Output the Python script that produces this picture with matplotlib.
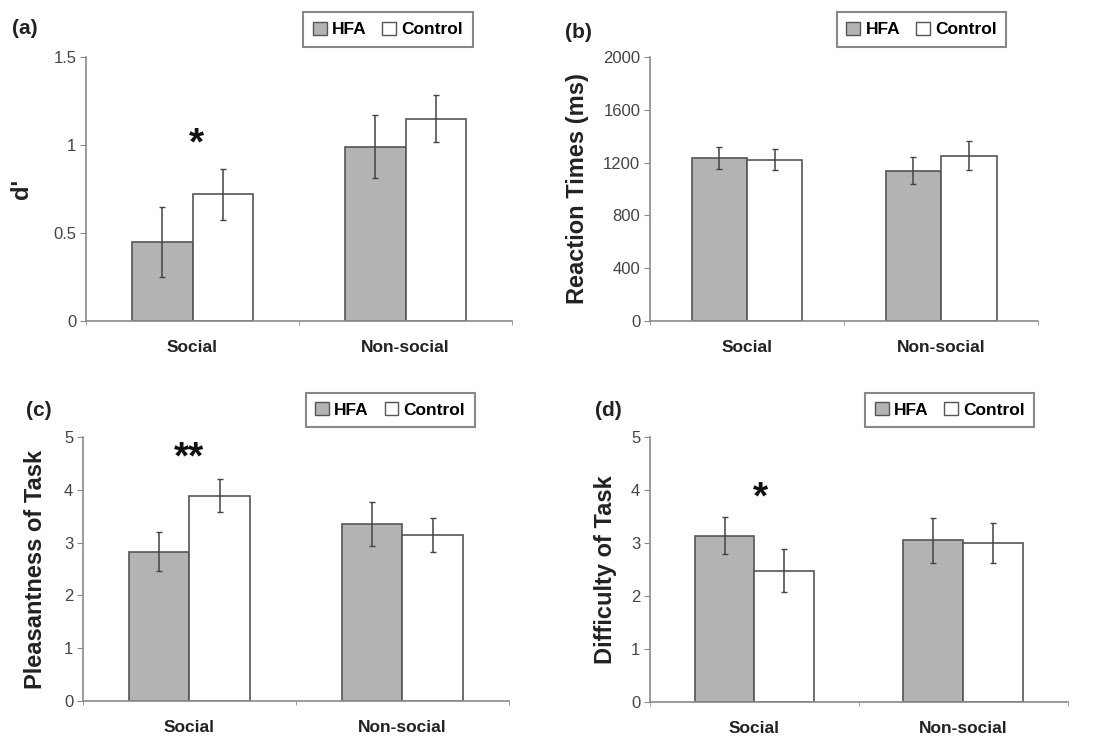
import matplotlib
matplotlib.use("Agg")
import matplotlib.pyplot as plt
from matplotlib.patches import Patch

plt.rcParams['font.family'] = ['Liberation Sans', 'DejaVu Sans']

categories = ['Social', 'Non-social']
groups = ['HFA', 'Control']

# (a) d'
dprime_hfa = [0.45, 0.99]
dprime_hfa_err = [0.20, 0.18]
dprime_ctl = [0.72, 1.15]
dprime_ctl_err = [0.145, 0.135]

# (b) reaction times
rt_hfa = [1236, 1140]
rt_hfa_err = [82, 102]
rt_ctl = [1223, 1254]
rt_ctl_err = [80, 113]

# (c) pleasantness
pleas_hfa = [2.83, 3.35]
pleas_hfa_err = [0.37, 0.42]
pleas_ctl = [3.89, 3.15]
pleas_ctl_err = [0.31, 0.32]

# (d) difficulty
diff_hfa = [3.14, 3.05]
diff_hfa_err = [0.35, 0.42]
diff_ctl = [2.48, 3.00]
diff_ctl_err = [0.40, 0.37]

GRAY = '#b3b3b3'
EDGE = '#555555'
AXC = '#8a8a8a'
TXT = '#444444'

fig = plt.figure(figsize=(10.93, 7.38), dpi=100)

panels = [
    # rect, hfa, hfa_err, ctl, ctl_err, ymax, yticks, ticklabels, ylabel, labelx, tag, tagpos, legend center, star
    ([0.0787, 0.565, 0.3898, 0.3577], dprime_hfa, dprime_hfa_err, dprime_ctl, dprime_ctl_err,
     1.5, [0, 0.5, 1, 1.5], ['0', '0.5', '1', '1.5'], "d'", -0.124,
     '(a)', (0.011, 0.961), (0.355, 0.960), ('*', 0.02, 1.04)),
    ([0.5947, 0.565, 0.355, 0.3577], rt_hfa, rt_hfa_err, rt_ctl, rt_ctl_err,
     2000, [0, 400, 800, 1200, 1600, 2000], None, 'Reaction Times (ms)', -0.157,
     '(b)', (0.517, 0.956), (0.843, 0.960), None),
    ([0.0759, 0.0501, 0.3898, 0.3577], pleas_hfa, pleas_hfa_err, pleas_ctl, pleas_ctl_err,
     5, [0, 1, 2, 3, 4, 5], None, 'Pleasantness of Task', -0.085,
     '(c)', (0.024, 0.444), (0.357, 0.4444), ('**', 0.0, 4.72)),
    ([0.5947, 0.0488, 0.382, 0.359], diff_hfa, diff_hfa_err, diff_ctl, diff_ctl_err,
     5, [0, 1, 2, 3, 4, 5], None, 'Difficulty of Task', -0.079,
     '(d)', (0.544, 0.444), (0.869, 0.4444), ('*', 0.027, 3.96)),
]

w = 0.286
x = [0, 1]
for (rect, hfa, hfa_e, ctl, ctl_e, ymax, yt, ytl, ylab, labx, tag, tagpos, legc, star) in panels:
    ax = fig.add_axes(rect)
    ekw = dict(ecolor='#444444', elinewidth=1.1, capsize=2.5, capthick=1.0)
    ax.bar([i - w / 2 for i in x], hfa, w, yerr=hfa_e, color=GRAY, edgecolor=EDGE,
           linewidth=1.2, error_kw=ekw, zorder=2)
    ax.bar([i + w / 2 for i in x], ctl, w, yerr=ctl_e, color='white', edgecolor=EDGE,
           linewidth=1.2, error_kw=ekw, zorder=2)
    ax.set_xlim(-0.5, 1.5)
    ax.set_ylim(0, ymax)
    ax.set_yticks(yt)
    if ytl:
        ax.set_yticklabels(ytl)
    ax.set_xticks(x)
    ax.set_xticklabels(categories, fontweight='bold', fontsize=12.5, color='#222222')
    ax.set_xticks([-0.5, 0.5, 1.5], minor=True)
    ax.tick_params(axis='x', which='major', length=0, pad=14)
    ax.tick_params(axis='x', which='minor', length=3, direction='out', color=AXC)
    ax.tick_params(axis='y', length=4, direction='out', color=AXC, labelsize=12,
                   labelcolor=TXT, pad=3)
    for s in ['top', 'right']:
        ax.spines[s].set_visible(False)
    for s in ['left', 'bottom']:
        ax.spines[s].set_color(AXC)
        ax.spines[s].set_linewidth(1.2)
    ax.set_ylabel(ylab, fontsize=17, fontweight='bold', color='#222222')
    ax.yaxis.set_label_coords(labx, 0.5)
    fig.text(tagpos[0], tagpos[1], tag, fontsize=15, fontweight='bold', va='center',
             color='#222222')
    handles = [Patch(facecolor=GRAY, edgecolor=EDGE, linewidth=1.0, label=groups[0]),
               Patch(facecolor='white', edgecolor=EDGE, linewidth=1.0, label=groups[1])]
    leg = fig.legend(handles=handles, loc='center', bbox_to_anchor=legc, ncol=2,
                     fancybox=False, edgecolor='#888888', framealpha=1,
                     prop=dict(weight='bold', size=12.5), handlelength=0.8,
                     handleheight=0.8, handletextpad=0.3, columnspacing=0.9,
                     borderpad=0.55, borderaxespad=0)
    leg.get_frame().set_linewidth(1.5)
    if star:
        ax.annotate(star[0], xy=(star[1], star[2]), xytext=(0, -12),
                    textcoords='offset points', ha='center', va='baseline',
                    fontsize=28, fontweight='bold', color='#111111')

fig.savefig('out.png', dpi=100)
